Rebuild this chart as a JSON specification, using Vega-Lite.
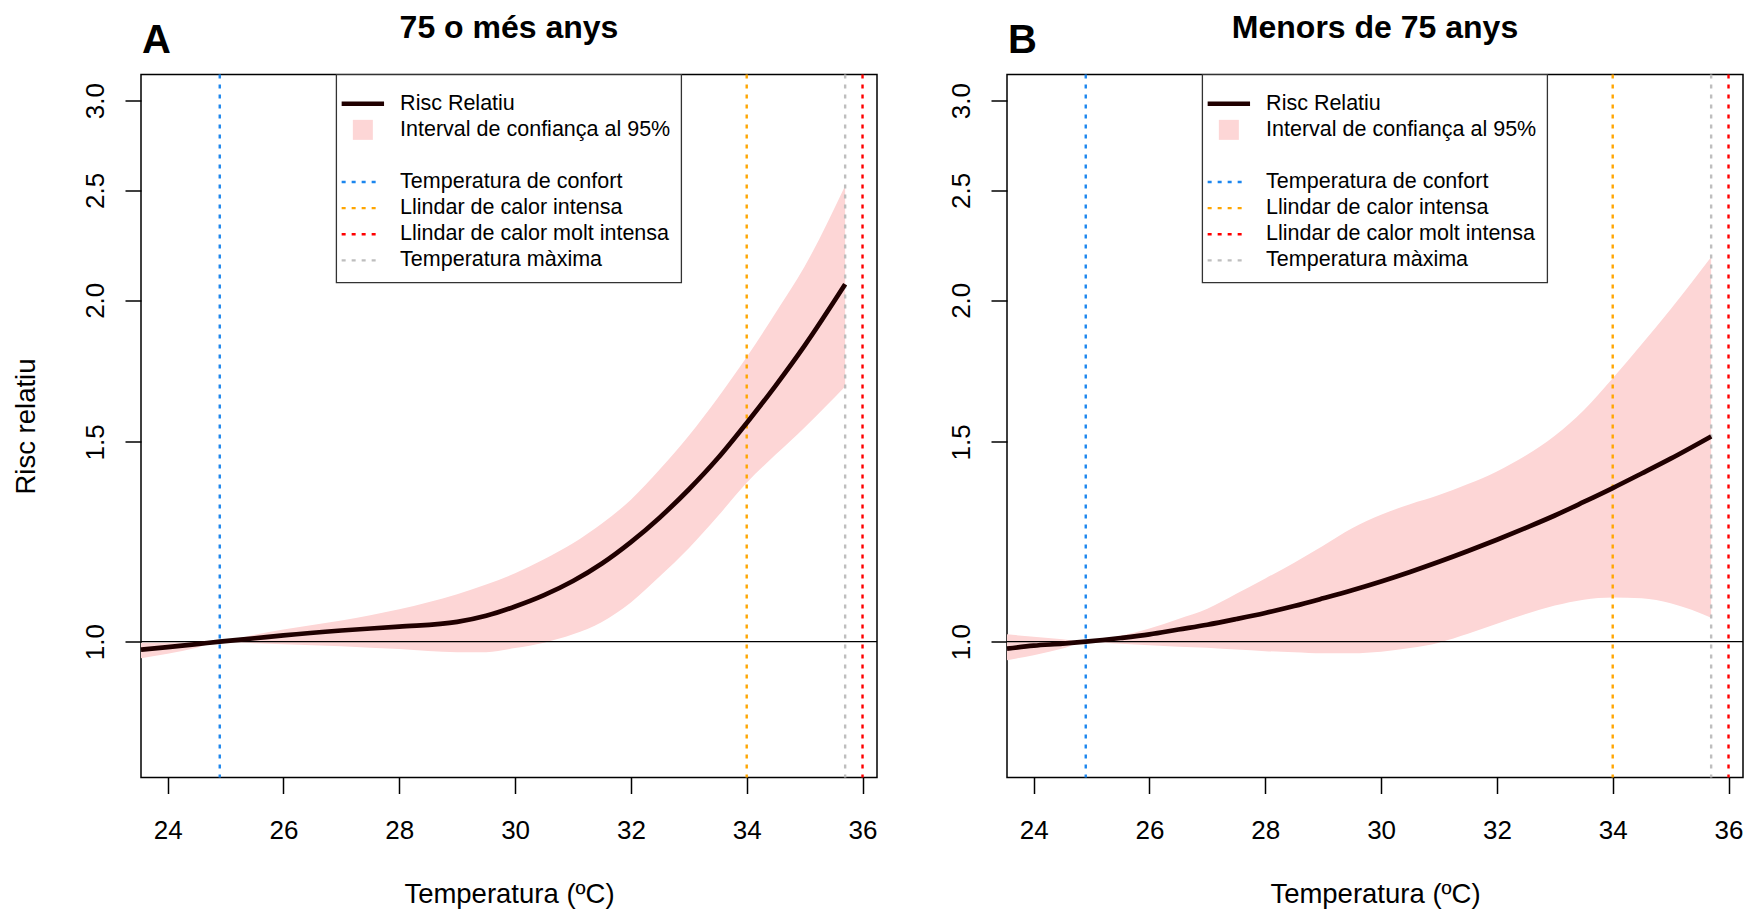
{
  "$schema": "https://vega.github.io/schema/vega-lite/v6.json",
  "padding": {"left": 12, "top": 11.5, "right": 0, "bottom": 0},
  "datasets": {
    "gent_gran": [
      {"t": 23.54, "rr": 0.984, "lo": 0.967, "hi": 0.998},
      {"t": 24.0, "rr": 0.989, "lo": 0.976, "hi": 0.998},
      {"t": 24.5, "rr": 0.995, "lo": 0.988, "hi": 0.999},
      {"t": 24.9, "rr": 1.0, "lo": 1.0, "hi": 1.0},
      {"t": 25.5, "rr": 1.007, "lo": 0.997, "hi": 1.014},
      {"t": 26.0, "rr": 1.013, "lo": 0.995, "hi": 1.025},
      {"t": 27.0, "rr": 1.023, "lo": 0.991, "hi": 1.044},
      {"t": 28.0, "rr": 1.031, "lo": 0.985, "hi": 1.068},
      {"t": 29.0, "rr": 1.041, "lo": 0.979, "hi": 1.101},
      {"t": 29.5, "rr": 1.054, "lo": 0.979, "hi": 1.123},
      {"t": 30.0, "rr": 1.074, "lo": 0.987, "hi": 1.149},
      {"t": 30.5, "rr": 1.099, "lo": 0.998, "hi": 1.182},
      {"t": 31.0, "rr": 1.131, "lo": 1.015, "hi": 1.221},
      {"t": 31.5, "rr": 1.172, "lo": 1.041, "hi": 1.271},
      {"t": 32.0, "rr": 1.224, "lo": 1.083, "hi": 1.334},
      {"t": 32.5, "rr": 1.287, "lo": 1.142, "hi": 1.419},
      {"t": 33.0, "rr": 1.362, "lo": 1.209, "hi": 1.519},
      {"t": 33.5, "rr": 1.451, "lo": 1.29, "hi": 1.64},
      {"t": 34.0, "rr": 1.559, "lo": 1.381, "hi": 1.782},
      {"t": 34.5, "rr": 1.682, "lo": 1.462, "hi": 1.95},
      {"t": 35.0, "rr": 1.824, "lo": 1.545, "hi": 2.142},
      {"t": 35.7, "rr": 2.066, "lo": 1.679, "hi": 2.524}
    ],
    "menors": [
      {"t": 23.54, "rr": 0.986, "lo": 0.963, "hi": 1.015},
      {"t": 24.0, "rr": 0.992, "lo": 0.973, "hi": 1.01},
      {"t": 24.5, "rr": 0.996, "lo": 0.986, "hi": 1.005},
      {"t": 24.9, "rr": 1.0, "lo": 1.0, "hi": 1.0},
      {"t": 25.5, "rr": 1.0075, "lo": 0.996, "hi": 1.012},
      {"t": 26.0, "rr": 1.015, "lo": 0.993, "hi": 1.027},
      {"t": 26.5, "rr": 1.025, "lo": 0.99, "hi": 1.047},
      {"t": 27.0, "rr": 1.035, "lo": 0.988, "hi": 1.069},
      {"t": 27.5, "rr": 1.047, "lo": 0.984, "hi": 1.102},
      {"t": 28.0, "rr": 1.06, "lo": 0.981, "hi": 1.137},
      {"t": 28.5, "rr": 1.075, "lo": 0.979, "hi": 1.174},
      {"t": 29.0, "rr": 1.092, "lo": 0.977, "hi": 1.215},
      {"t": 29.5, "rr": 1.11, "lo": 0.977, "hi": 1.259},
      {"t": 30.0, "rr": 1.13, "lo": 0.98, "hi": 1.294},
      {"t": 30.5, "rr": 1.152, "lo": 0.987, "hi": 1.322},
      {"t": 31.0, "rr": 1.176, "lo": 0.998, "hi": 1.347},
      {"t": 31.5, "rr": 1.202, "lo": 1.016, "hi": 1.377},
      {"t": 32.0, "rr": 1.23, "lo": 1.037, "hi": 1.413},
      {"t": 32.5, "rr": 1.26, "lo": 1.058, "hi": 1.459},
      {"t": 33.0, "rr": 1.292, "lo": 1.076, "hi": 1.519},
      {"t": 33.5, "rr": 1.328, "lo": 1.089, "hi": 1.6},
      {"t": 34.0, "rr": 1.366, "lo": 1.094, "hi": 1.707},
      {"t": 34.5, "rr": 1.407, "lo": 1.092, "hi": 1.829},
      {"t": 35.0, "rr": 1.45, "lo": 1.081, "hi": 1.964},
      {"t": 35.7, "rr": 1.517, "lo": 1.05, "hi": 2.184}
    ],
    "llindars": [
      {"nom": "Temperatura de confort", "t": 24.9},
      {"nom": "Llindar de calor intensa", "t": 34.0},
      {"nom": "Temperatura màxima", "t": 35.7},
      {"nom": "Llindar de calor molt intensa", "t": 36.0}
    ]
  },
  "spacing": 68,
  "resolve": {"scale": {"color": "independent"}, "legend": {"color": "independent"}},
  "hconcat": [
    {
      "width": 736,
      "height": 703,
      "title": {"text": "75 o més anys"},
      "layer": [
        {
          "data": {"name": "gent_gran"},
          "mark": {"type": "area", "opacity": 1, "interpolate": "monotone"},
          "encoding": {
            "x": {"field": "t", "type": "quantitative", "scale": {"domain": [23.54, 36.25], "nice": false, "zero": false},
                  "axis": {"orient": "bottom", "title": "Temperatura (ºC)", "values": [24, 26, 28, 30, 32, 34, 36]}},
            "y": {"field": "lo", "type": "quantitative", "scale": {"type": "log", "domain": [0.759, 3.163], "nice": false},
                  "axis": {"title": "Risc relatiu", "values": [1, 1.5, 2, 2.5, 3], "format": ".1f"}},
            "y2": {"field": "hi"},
            "color": {"datum": "Interval de confiança al 95%",
              "scale": {"domain": ["Risc Relatiu", "Interval de confiança al 95%", " ", "Temperatura de confort", "Llindar de calor intensa", "Llindar de calor molt intensa", "Temperatura màxima"],
                        "range": ["#200000", "#FDD6D6", "transparent", "#1C86EE", "#FFA500", "#FF0000", "#BEBEBE"]},
              "legend": {
                "title": " ", "titleFontSize": 1, "titlePadding": 6.8,
                "orient": "none", "legendX": 195.2, "legendY": 0,
                "encoding": {"symbols": {
                  "shape": {"value": {"expr": "datum.value === 'Interval de confiança al 95%' ? 'M-1,-1H1V1H-1Z' : datum.value === 'Risc Relatiu' ? 'M-2.12,0H2.12' : 'M-2.12,0H1.5'"}},
                  "fill": {"value": {"expr": "datum.value === 'Interval de confiança al 95%' ? '#FDD6D6' : 'transparent'"}},
                  "stroke": {"value": {"expr": "datum.value === 'Risc Relatiu' ? '#200000' : datum.value === 'Temperatura de confort' ? '#1C86EE' : datum.value === 'Llindar de calor intensa' ? '#FFA500' : datum.value === 'Llindar de calor molt intensa' ? '#FF0000' : datum.value === 'Temperatura màxima' ? '#BEBEBE' : 'transparent'"}},
                  "strokeWidth": {"value": {"expr": "datum.value === 'Risc Relatiu' ? 4.7 : datum.value === 'Interval de confiança al 95%' ? 0 : 2.4"}},
                  "strokeDash": {"value": {"expr": "datum.value === 'Risc Relatiu' || datum.value === 'Interval de confiança al 95%' ? [1, 0] : [4, 6]"}},
                  "opacity": {"value": 1}
                }}
              }}
          }
        },
        {
          "data": {"values": [{"v": 1}]},
          "mark": {"type": "rule", "color": "black", "strokeWidth": 1.3},
          "encoding": {"y": {"field": "v", "type": "quantitative"}}
        },
        {
          "data": {"name": "llindars"},
          "mark": {"type": "rule", "strokeDash": [4, 6], "strokeWidth": 2.4},
          "encoding": {
            "x": {"field": "t", "type": "quantitative", "axis": null},
            "color": {"field": "nom", "type": "nominal"}
          }
        },
        {
          "data": {"name": "gent_gran"},
          "mark": {"type": "line", "strokeWidth": 4.7, "interpolate": "monotone"},
          "encoding": {
            "x": {"field": "t", "type": "quantitative",
                  "axis": {"orient": "top", "title": "A", "labels": false, "ticks": false, "domain": false, "grid": false,
                           "titleFontSize": 40, "titleFontWeight": "bold", "titleAlign": "left", "titleAnchor": "start",
                           "titleX": 0.5, "titleY": -22.3, "titleBaseline": "alphabetic", "titleAngle": 0}},
            "y": {"field": "rr", "type": "quantitative"},
            "color": {"datum": "Risc Relatiu"}
          }
        }
      ]
    },
    {
      "width": 736,
      "height": 703,
      "title": {"text": "Menors de 75 anys"},
      "layer": [
        {
          "data": {"name": "menors"},
          "mark": {"type": "area", "opacity": 1, "interpolate": "monotone"},
          "encoding": {
            "x": {"field": "t", "type": "quantitative", "scale": {"domain": [23.54, 36.25], "nice": false, "zero": false},
                  "axis": {"orient": "bottom", "title": "Temperatura (ºC)", "values": [24, 26, 28, 30, 32, 34, 36]}},
            "y": {"field": "lo", "type": "quantitative", "scale": {"type": "log", "domain": [0.759, 3.163], "nice": false},
                  "axis": {"title": null, "values": [1, 1.5, 2, 2.5, 3], "format": ".1f"}},
            "y2": {"field": "hi"},
            "color": {"datum": "Interval de confiança al 95%",
              "scale": {"domain": ["Risc Relatiu", "Interval de confiança al 95%", " ", "Temperatura de confort", "Llindar de calor intensa", "Llindar de calor molt intensa", "Temperatura màxima"],
                        "range": ["#200000", "#FDD6D6", "transparent", "#1C86EE", "#FFA500", "#FF0000", "#BEBEBE"]},
              "legend": {
                "title": " ", "titleFontSize": 1, "titlePadding": 6.8,
                "orient": "none", "legendX": 195.2, "legendY": 0,
                "encoding": {"symbols": {
                  "shape": {"value": {"expr": "datum.value === 'Interval de confiança al 95%' ? 'M-1,-1H1V1H-1Z' : datum.value === 'Risc Relatiu' ? 'M-2.12,0H2.12' : 'M-2.12,0H1.5'"}},
                  "fill": {"value": {"expr": "datum.value === 'Interval de confiança al 95%' ? '#FDD6D6' : 'transparent'"}},
                  "stroke": {"value": {"expr": "datum.value === 'Risc Relatiu' ? '#200000' : datum.value === 'Temperatura de confort' ? '#1C86EE' : datum.value === 'Llindar de calor intensa' ? '#FFA500' : datum.value === 'Llindar de calor molt intensa' ? '#FF0000' : datum.value === 'Temperatura màxima' ? '#BEBEBE' : 'transparent'"}},
                  "strokeWidth": {"value": {"expr": "datum.value === 'Risc Relatiu' ? 4.7 : datum.value === 'Interval de confiança al 95%' ? 0 : 2.4"}},
                  "strokeDash": {"value": {"expr": "datum.value === 'Risc Relatiu' || datum.value === 'Interval de confiança al 95%' ? [1, 0] : [4, 6]"}},
                  "opacity": {"value": 1}
                }}
              }}
          }
        },
        {
          "data": {"values": [{"v": 1}]},
          "mark": {"type": "rule", "color": "black", "strokeWidth": 1.3},
          "encoding": {"y": {"field": "v", "type": "quantitative"}}
        },
        {
          "data": {"name": "llindars"},
          "mark": {"type": "rule", "strokeDash": [4, 6], "strokeWidth": 2.4},
          "encoding": {
            "x": {"field": "t", "type": "quantitative", "axis": null},
            "color": {"field": "nom", "type": "nominal"}
          }
        },
        {
          "data": {"name": "menors"},
          "mark": {"type": "line", "strokeWidth": 4.7, "interpolate": "monotone"},
          "encoding": {
            "x": {"field": "t", "type": "quantitative",
                  "axis": {"orient": "top", "title": "B", "labels": false, "ticks": false, "domain": false, "grid": false,
                           "titleFontSize": 40, "titleFontWeight": "bold", "titleAlign": "left", "titleAnchor": "start",
                           "titleX": 0.5, "titleY": -22.3, "titleBaseline": "alphabetic", "titleAngle": 0}},
            "y": {"field": "rr", "type": "quantitative"},
            "color": {"datum": "Risc Relatiu"}
          }
        }
      ]
    }
  ],
  "config": {
    "font": "Liberation Sans",
    "background": "white",
    "view": {"stroke": "black", "strokeWidth": 1.5},
    "axis": {
      "domain": false, "grid": false, "ticks": true, "tickColor": "black", "tickWidth": 1.5, "tickSize": 16,
      "labelFont": "Liberation Sans", "labelFontSize": 26, "labelColor": "black", "labelFlush": false, "labelOverlap": false,
      "titleFont": "Liberation Sans", "titleFontSize": 27.5, "titleFontWeight": "normal", "titleColor": "black"
    },
    "axisBottom": {"labelBaseline": "middle", "labelPadding": 36.8, "titleBaseline": "alphabetic", "titleY": 124.5},
    "axisLeft": {"labelAngle": 270, "labelAlign": "center", "labelBaseline": "middle", "labelPadding": 29.9,
                 "titleAngle": 270, "titleBaseline": "alphabetic", "titleAlign": "center", "titleX": -106.1},
    "legend": {
      "labelFont": "Liberation Sans", "labelFontSize": 21.5, "labelColor": "black", "labelLimit": 500,
      "symbolSize": 400, "symbolOffset": 5.2, "labelOffset": 26.5, "rowPadding": 3.1, "padding": 10.7,
      "strokeColor": "#333333", "fillColor": "white", "strokeWidth": 1.3, "cornerRadius": 0
    },
    "title": {"font": "Liberation Sans", "fontSize": 32, "fontWeight": "bold", "color": "black", "anchor": "middle",
              "frame": "group", "baseline": "alphabetic", "offset": -25.2}
  }
}
